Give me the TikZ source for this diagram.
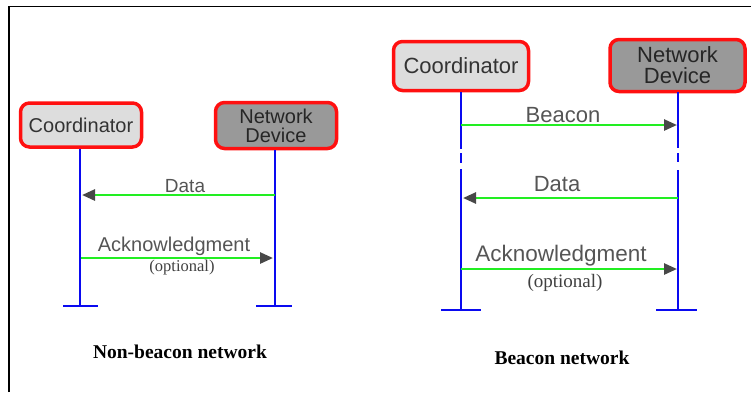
\documentclass[tikz,border=0pt]{standalone}
\usepackage{fontspec}
\setmainfont{Liberation Serif}
\newfontfamily\arialf{Liberation Sans}
\usetikzlibrary{arrows.meta}
\definecolor{boxred}{HTML}{FF1010}
\definecolor{lightbox}{HTML}{DDDDDD}
\definecolor{darkbox}{HTML}{999999}
\definecolor{msggreen}{HTML}{22EE22}
\definecolor{lifeblue}{HTML}{0A0AF0}
\definecolor{tipgray}{HTML}{484848}
\definecolor{labgray}{HTML}{555555}
\tikzset{
  x=1pt, y=-1pt,
  actor/.style={draw=boxred, line width=3.5pt, rounded corners=9pt, inner sep=0pt,
    align=center, font=\arialf, text=black!80},
  lifeline/.style={draw=lifeblue, line width=2.6pt},
  endbar/.style={draw=lifeblue, line width=2.6pt},
  msg/.style={draw=msggreen, line width=2.6pt,
    -{Triangle[length=13pt,width=11pt,color=tipgray]}},
  msglab/.style={font=\arialf, text=labgray, inner sep=0pt},
  optlab/.style={text=black!75, inner sep=0pt},
  caption/.style={font=\bfseries, text=black, inner sep=0pt}
}
\begin{document}
\begin{tikzpicture}
\useasboundingbox (0,0) rectangle (751,392);
% frame
\draw[line width=1.5pt] (9,392) -- (9,6.5) -- (751,6.5);

% ---------- Non-beacon network ----------
\node[actor, fill=lightbox, minimum width=121pt, minimum height=44pt, font=\arialf\fontsize{20}{22}\selectfont]
  (c1) at (81,125) {Coordinator};
\node[actor, fill=darkbox, minimum width=121pt, minimum height=46pt, font=\arialf\fontsize{20}{19}\selectfont, text=black!85]
  (d1) at (276,125.5) {Network\\Device};
\coordinate (c1e) at (80,306);
\coordinate (d1e) at (275,306);
\draw[lifeline] (c1e |- c1.south) -- (c1e);
\draw[lifeline] (d1e |- d1.south) -- (d1e);
\draw[endbar] (63,306) -- (98,306);
\draw[endbar] (256,306) -- (292,306);
\coordinate (c1d) at (82,195);
\coordinate (d1d) at (275,195);
\draw[msg] (d1d) -- (c1d);
\node[msglab, font=\arialf\fontsize{19}{20}\selectfont] (l1data) at (185,186) {Data};
\coordinate (c1a) at (81,258);
\coordinate (d1a) at (273,258);
\draw[msg] (c1a) -- (d1a);
\node[msglab, font=\arialf\fontsize{20}{20}\selectfont] (l1ack) at (174,246) {Acknowledgment};
\node[optlab, font=\fontsize{16.5}{17}\selectfont] (l1opt) at (182,268) {(optional)};
\node[caption, font=\bfseries\fontsize{19.5}{20}\selectfont] (cap1) at (180,352) {Non-beacon network};

% ---------- Beacon network ----------
\node[actor, fill=lightbox, minimum width=135pt, minimum height=49pt, font=\arialf\fontsize{22}{24}\selectfont]
  (c2) at (461,66) {Coordinator};
\node[actor, fill=darkbox, minimum width=135pt, minimum height=52pt, font=\arialf\fontsize{22}{21}\selectfont, text=black!85]
  (d2) at (677.5,65.5) {Network\\Device};
% lifelines with small breaks
\draw[lifeline] (461,92) -- (461,149);
\draw[lifeline] (461,153) -- (461,163);
\draw[lifeline] (461,169) -- (461,310);
\draw[lifeline] (678,92) -- (678,148);
\draw[lifeline] (678,153) -- (678,162);
\draw[lifeline] (678,170) -- (678,310);
\draw[endbar] (441,310) -- (481,310);
\draw[endbar] (656,310) -- (697,310);
\coordinate (c2b) at (461,125);
\coordinate (d2b) at (677,125);
\draw[msg] (c2b) -- (d2b);
\node[msglab, font=\arialf\fontsize{22}{22}\selectfont] (l2beacon) at (563,115) {Beacon};
\coordinate (c2d) at (463,198);
\coordinate (d2d) at (678,198);
\draw[msg] (d2d) -- (c2d);
\node[msglab, font=\arialf\fontsize{22}{22}\selectfont] (l2data) at (557,184) {Data};
\coordinate (c2a) at (461,269);
\coordinate (d2a) at (677,269);
\draw[msg] (c2a) -- (d2a);
\node[msglab, font=\arialf\fontsize{22.5}{22}\selectfont] (l2ack) at (561,256) {Acknowledgment};
\node[optlab, font=\fontsize{19}{19}\selectfont] (l2opt) at (565,283) {(optional)};
\node[caption, font=\bfseries\fontsize{19.5}{20}\selectfont] (cap2) at (562,358) {Beacon network};
\end{tikzpicture}
\end{document}
